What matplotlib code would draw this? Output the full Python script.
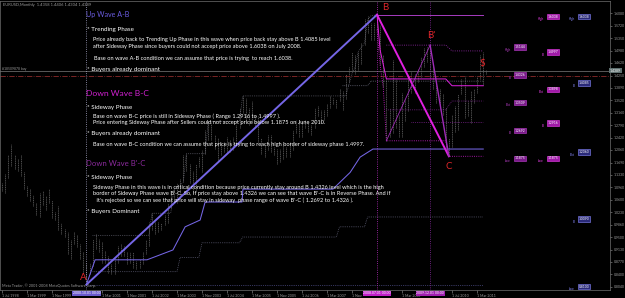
"""
EURUSD monthly - wave A-B / B-C / B'-C annotation chart
"""

import matplotlib
matplotlib.use("Agg")
import matplotlib.pyplot as plt

plt.rcParams['font.family'] = ['Lato', 'DejaVu Sans']

# ---------------- data ----------------
# monthly bars, index 0 = Jul 1998
bar_high = [
    1.1100, 1.1350, 1.1900, 1.2250, 1.1900, 1.1800,                          # 1998 Jul-Dec
    1.1900, 1.1400, 1.1000, 1.0900, 1.0750, 1.0500, 1.0800, 1.0850, 1.0700, 1.0900, 1.0600, 1.0250,  # 1999
    1.0400, 0.9900, 0.9750, 0.9650, 0.9400, 0.9650, 0.9550, 0.9300, 0.9050, 0.8700, 0.8750, 0.9450,  # 2000
    0.9600, 0.9450, 0.9350, 0.9100, 0.8950, 0.8700, 0.8850, 0.9250, 0.9300, 0.9250, 0.9050, 0.9050,  # 2001
    0.9050, 0.8800, 0.8850, 0.9050, 0.9400, 0.9950, 1.0200, 0.9950, 0.9950, 0.9900, 1.0150, 1.0500,  # 2002
    1.0850, 1.0900, 1.1100, 1.1200, 1.1900, 1.1950, 1.1650, 1.1450, 1.1650, 1.1850, 1.2050, 1.2650,  # 2003
    1.2900, 1.2900, 1.2500, 1.2400, 1.2300, 1.2300, 1.2450, 1.2350, 1.2450, 1.2800, 1.3300, 1.3650,  # 2004
    1.3600, 1.3300, 1.3500, 1.3100, 1.3050, 1.2400, 1.2250, 1.2500, 1.2500, 1.2150, 1.2100, 1.2100,  # 2005
    1.2300, 1.2150, 1.2300, 1.2650, 1.2950, 1.2950, 1.2900, 1.2950, 1.2900, 1.2800, 1.3300, 1.3350,  # 2006
    1.3250, 1.3250, 1.3400, 1.3650, 1.3600, 1.3550, 1.3850, 1.3800, 1.4300, 1.4500, 1.4950, 1.4850,  # 2007
    1.4950, 1.5200, 1.5900, 1.6000, 1.5800, 1.5800, 1.6038, 1.5750, 1.4850, 1.4150, 1.3300, 1.4700,  # 2008
    1.4150, 1.3100, 1.3750, 1.3550, 1.4200, 1.4350, 1.4300, 1.4450, 1.4800, 1.5050, 1.5100, 1.5144,  # 2009
    1.4550, 1.4000, 1.3850, 1.3700, 1.3300, 1.2400, 1.3100, 1.3350, 1.3700, 1.4150, 1.4250, 1.3500,  # 2010
    1.3800, 1.3850, 1.4250, 1.4850, 1.4940, 1.4406,                          # 2011
]
bar_low = [
    1.0850, 1.0800, 1.1250, 1.1600, 1.1500, 1.1450,
    1.1300, 1.0900, 1.0700, 1.0550, 1.0400, 1.0150, 1.0100, 1.0450, 1.0300, 1.0500, 1.0050, 1.0000,
    0.9700, 0.9600, 0.9500, 0.9000, 0.8850, 0.9300, 0.9200, 0.8850, 0.8450, 0.8100, 0.8400, 0.8650,
    0.9150, 0.9050, 0.8750, 0.8750, 0.8450, 0.8400, 0.8400, 0.8750, 0.8950, 0.8950, 0.8700, 0.8750,
    0.8600, 0.8550, 0.8600, 0.8700, 0.9000, 0.9250, 0.9700, 0.9600, 0.9650, 0.9700, 0.9850, 0.9900,
    1.0350, 1.0650, 1.0500, 1.0650, 1.1150, 1.1450, 1.1100, 1.0800, 1.0850, 1.1550, 1.1400, 1.1950,
    1.2350, 1.2350, 1.2100, 1.1750, 1.1900, 1.2000, 1.2000, 1.2000, 1.2050, 1.2250, 1.2700, 1.3150,
    1.2950, 1.2800, 1.2850, 1.2750, 1.2300, 1.1950, 1.1850, 1.2050, 1.2000, 1.1900, 1.1650, 1.1700,
    1.1800, 1.1850, 1.1850, 1.2050, 1.2550, 1.2450, 1.2450, 1.2700, 1.2600, 1.2500, 1.2700, 1.3050,
    1.2850, 1.2950, 1.3050, 1.3300, 1.3400, 1.3300, 1.3500, 1.3250, 1.3550, 1.4050, 1.4400, 1.4300,
    1.4400, 1.4600, 1.5150, 1.5500, 1.5300, 1.5300, 1.5600, 1.4550, 1.3900, 1.2330, 1.2450, 1.2550,
    1.2700, 1.2450, 1.2450, 1.2900, 1.3200, 1.3750, 1.3750, 1.4050, 1.4200, 1.4500, 1.4650, 1.4200,
    1.3850, 1.3450, 1.3300, 1.3100, 1.2150, 1.1875, 1.2150, 1.2600, 1.2650, 1.3700, 1.3000, 1.3050,
    1.2850, 1.3450, 1.3750, 1.4150, 1.3970, 1.4304,
]
bar_month = list(range(len(bar_high)))

# wave pivots (month index, price)
point_A = (27, 0.8100)
point_B = (120, 1.6038)
point_B2 = (137, 1.5144)
point_C = (143, 1.1875)
point_S = (154, 1.4406)
low_oct08 = (123, 1.2330)

# A-B lower step line (solid blue)
ab_step_m = [27, 29.8, 46.4, 54.7, 58.6, 63.4, 65, 76.8, 77.1, 105.9, 111.4, 114.6, 118.7, 154]
ab_step_p = [0.8100, 0.8830, 0.8830, 0.9120, 0.9800, 1.0000, 1.0530, 1.0530, 1.0910, 1.0910,
             1.1400, 1.1850, 1.2088, 1.2088]

# dotted channel lines
upper_m = [29, 47, 48, 54, 55, 58, 59, 65, 66, 76, 77, 110, 112, 113, 114, 116, 117, 118, 120]
upper_p = [0.9550, 0.9550, 1.0200, 1.0200, 1.0900, 1.1100, 1.1950, 1.1950, 1.2900, 1.2900,
           1.3650, 1.3650, 1.4300, 1.4500, 1.4950, 1.5200, 1.5900, 1.6000, 1.6038]
lower_m = [29, 56, 57, 63, 64, 76, 77, 107, 108, 116, 117, 154]
lower_p = [0.8480, 0.8480, 0.8900, 0.8900, 0.9330, 0.9330, 0.9500, 0.9500, 0.9800, 0.9800,
           1.0090, 1.0090]
mid_m = [109, 117, 118, 154]
mid_p = [1.3950, 1.3950, 1.4085, 1.4085]
ab_low_m = [27, 154]
ab_low_p = [0.8100, 0.8100]

# B-C channel lines
bc_high_m = [120, 154]
bc_high_p = [1.6038, 1.6038]
bc_upper_m = [120, 121, 123, 142, 144, 154]
bc_upper_p = [1.6038, 1.5000, 1.4150, 1.4150, 1.3950, 1.3950]
bc_lower_m = [120, 121, 122, 123, 142, 143, 154]
bc_lower_p = [1.5600, 1.4550, 1.3900, 1.2330, 1.2330, 1.1875, 1.1875]
# B'-C channel lines
bpc_upper_m = [123, 142, 144, 154]
bpc_upper_p = [1.5144, 1.5144, 1.4974, 1.4974]
bpc_mid_m = [123, 142, 144, 154]
bpc_mid_p = [1.3240, 1.3240, 1.3500, 1.3500]
bpc_low_m = [131, 154]
bpc_low_p = [1.2890, 1.2890]

bid_price = 1.4389
order_price = 1.4250

# level labels on the right
level_names = ['High', 'B', 'Bot', 'B', 'Low']
ab_levels = [1.6038, 1.4085, 1.2060, 1.0090, 0.8100]
bc_levels = [1.6038, 1.4997, 1.3898, 1.2916, 1.1875]
bpc_levels = [1.5144, 1.4326, 1.3509, 1.2692, 1.1875]

price_ticks = [1.6080, 1.5720, 1.5350, 1.4980, 1.4620, 1.4250, 1.3890, 1.3520, 1.3160, 1.2790,
               1.2420, 1.2060, 1.1690, 1.1330, 1.0960, 1.0600, 1.0230, 0.9860, 0.9500, 0.9130,
               0.8770, 0.8400, 0.8040]
date_ticks = [0, 8, 16, 32, 40, 48, 56, 64, 72, 80, 88, 96, 104, 112, 128, 144, 152]
date_labels = ['1 Jul 1998', '1 Mar 1999', '1 Nov 1999', '1 Mar 2001', '1 Nov 2001', '1 Jul 2002',
               '1 Mar 2003', '1 Nov 2003', '1 Jul 2004', '1 Mar 2005', '1 Nov 2005', '1 Jul 2006',
               '1 Mar 2007', '1 Nov', '1 Mar 2009', '1 Jul 2010', '1 Mar 2011']
vline_months = [27, 120, 137]
vline_labels = ['2000.10.01 00:00', '2008.07.01 00:00', '2009.12.01 00:00']

# colours
C_AB = '#7566e6'
C_BC = '#e020e0'
C_BPC = '#a02cb8'
RED = '#e0262a'
GREY = '#9a9a9a'

# ---------------- figure ----------------
W, H = 625, 298
fig = plt.figure(figsize=(W / 100, H / 100), dpi=100, facecolor='black')
ax = fig.add_axes([0, 8 / H, 610 / W, 289 / H], facecolor='black')
ax.set_xlim(-0.64, 194.56)
ax.set_ylim(0.7942, 1.6442)

# bars
ax.vlines(bar_month, bar_low, bar_high, color='#6e6e6e', lw=0.5, linestyles=(0, (1.6, 1)), zorder=1)

# channel lines
ax.plot(upper_m, upper_p, color='#7a7a8a', lw=0.5, ls=':', zorder=2)
ax.plot(lower_m, lower_p, color='#7a7a98', lw=0.5, ls=':', zorder=2)
ax.plot(mid_m, mid_p, color='#8a8aa0', lw=0.5, ls=':', zorder=2)
ax.plot(ab_low_m, ab_low_p, color='#6a6ab8', lw=0.5, ls=':', zorder=2)
ax.plot(ab_step_m, ab_step_p, color=C_AB, lw=0.75, zorder=3)

ax.plot(bc_high_m, bc_high_p, color='#a83cc0', lw=0.7, zorder=3)
ax.plot(bc_upper_m, bc_upper_p, color=C_BC, lw=0.7, zorder=3)
ax.plot(bc_lower_m, bc_lower_p, color=C_BC, lw=0.6, ls=':', zorder=3)
ax.plot(bpc_upper_m, bpc_upper_p, color=C_BPC, lw=0.6, ls=':', zorder=3)
ax.plot(bpc_mid_m, bpc_mid_p, color=C_BPC, lw=0.5, ls=':', zorder=3)
ax.plot(bpc_low_m, bpc_low_p, color=C_BPC, lw=0.5, ls=':', zorder=3)

# bid / order lines
ax.axhline(bid_price, color='#666666', lw=0.6, zorder=2)
ax.axhline(order_price, color='#8c2a2a', lw=0.6, ls='-.', zorder=2)

# vertical wave lines
for m, col in zip(vline_months, ['#a8a8c8', '#c030c8', '#8a2aa0']):
    ax.axvline(m, color=col, lw=0.6, ls=':', zorder=2)

# wave legs
ax.plot([point_A[0], point_B[0]], [point_A[1], point_B[1]], color=C_AB, lw=1.4, zorder=4)
ax.plot([point_B[0], point_C[0]], [point_B[1], point_C[1]], color=C_BC, lw=1.4, zorder=4)
ax.plot([point_B2[0], point_C[0]], [point_B2[1], point_C[1]], color=C_BPC, lw=1.0, zorder=4)
ax.plot([low_oct08[0], point_B2[0]], [low_oct08[1], point_B2[1]], color=C_BPC, lw=0.6, zorder=4)

# pivot letters
for (m, p), txt, dx, dy in [(point_A, 'A', -2, 5), (point_B, 'B', 6, 5), (point_B2, "B'", 1, 7),
                            (point_C, 'C', 0, -7), (point_S, '$', -1, 5)]:
    ax.annotate(txt, (m, p), xytext=(dx, dy), textcoords='offset points', color=RED,
                fontsize=7, ha='center', va='center', zorder=6)

# level labels
for col_m, levels, fc, ec in [(164, bpc_levels, '#7a1a8a', '#c040d0'),
                              (174.5, bc_levels, '#a01aa8', '#f040f0'),
                              (184.5, ab_levels, '#2a2a78', '#8a8aff')]:
    for name, lv in zip(level_names, levels):
        ax.text(col_m, lv, f'{lv:.4f}', fontsize=2.4, color='white', ha='left', va='top',
                bbox=dict(fc=fc, ec=ec, lw=0.4, pad=0.5), zorder=6)
        ax.text(col_m - 1.2, lv - 0.008, name, fontsize=2.2, color=ec, ha='right', va='top', zorder=6)

# axes styling
for s in ax.spines.values():
    s.set_color('#707070')
    s.set_linewidth(0.5)
ax.yaxis.tick_right()
ax.set_yticks(price_ticks, [f'{p:.4f}' for p in price_ticks])
ax.tick_params(axis='y', colors=GREY, labelsize=2.5, length=1.5, width=0.4, pad=1)
ax.set_xticks(date_ticks, date_labels)
for lbl in ax.get_xticklabels():
    lbl.set_ha('left')
ax.tick_params(axis='x', colors=GREY, labelsize=2.6, length=2, width=0.4, pad=0.6)

ax.text(1.0, bid_price, f'{bid_price:.4f}', transform=ax.get_yaxis_transform(), fontsize=2.5,
        color='white', ha='left', va='center', bbox=dict(fc='#5f7070', ec='none', pad=0.4), zorder=7)
for m, lab, fc in zip(vline_months, vline_labels, ['#6a5acd', '#c020c8', '#a020b0']):
    ax.text(m, -0.004, lab, transform=ax.get_xaxis_transform(), fontsize=2.5, color='white',
            ha='center', va='top', bbox=dict(fc=fc, ec='none', pad=0.4), zorder=7, clip_on=False)

# ---------------- notes ----------------
def note(x, y, s, size, color='white'):
    fig.text(x / W, 1 - y / H, s, fontsize=size, color=color, ha='left', va='center', zorder=8)

BODY = 4.05
BUL = 4.5
note(3, 5, 'EURUSD,Monthly  1.4358 1.4406 1.4304 1.4389', 2.9, GREY)
note(2, 69, '#18509878 buy', 2.4, GREY)
note(2, 286, 'Meta Trader, \u00a9 2001-2008 MetaQuotes Software Corp.', 2.7, GREY)

note(86, 14, 'Up Wave A-B', 5.1, '#6a5ce0')
note(87, 30, '* Trending Phase', BUL)
note(93, 40, 'Price already back to Trending Up Phase in this wave when price back stay above B 1.4085 level', BODY)
note(93, 47, 'after Sideway Phase since buyers could not accept price above 1.6038 on July 2008.', BODY)
note(94, 58, 'Base on wave A-B condition we can assume that price is trying  to reach 1.6038.', BODY)
note(87, 70, '* Buyers already dominant', BUL)

note(86, 94, 'Down Wave B-C', 6.1, '#d020d0')
note(87, 107, '* Sideway Phase', BUL)
note(93, 116.5, 'Base on wave B-C price is still in Sideway Phase ( Range 1.2916 to 1.4997 ).', BODY)
note(93, 122.7, 'Price entering Sideway Phase after Sellers could not accept price below 1.1875 on June 2010.', BODY)
note(87, 134, '* Buyers already dominant', BUL)
note(93, 144.5, 'Base on wave B-C condition we can assume that price is trying to reach high border of sideway phase 1.4997.', BODY)

note(86, 163, "Down Wave B'-C", 5.6, '#8c2a9e')
note(87, 177.5, '* Sideway Phase', BUL)
note(93, 187.7, 'Sideway Phase in this wave is in critical condition because price currently stay around B 1.4326 level which is the high', BODY)
note(93, 194, "border of Sideway Phase wave B'-C. So, If price stay above 1.4326 we can see that wave B'-C is in Reverse Phase. And if", BODY)
note(95, 200.3, " it's rejected so we can see that price will stay in sideway  phase range of wave B'-C ( 1.2692 to 1.4326 ).", BODY)
note(87, 211, '* Buyers Dominant', BUL)

fig.savefig('out.png', dpi=100, facecolor='black')
